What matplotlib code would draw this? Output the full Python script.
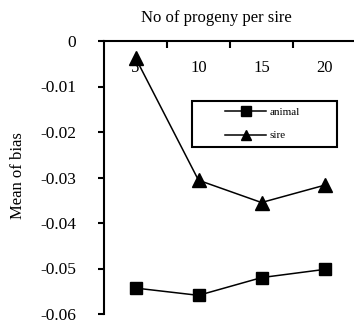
import matplotlib
matplotlib.use("Agg")
import matplotlib.pyplot as plt
from matplotlib.patches import Rectangle

plt.rcParams['font.family'] = ['Liberation Serif', 'DejaVu Serif']

progeny = ["5", "10", "15", "20"]
animal = [-0.0543, -0.0559, -0.0520, -0.0502]
sire = [-0.0037, -0.0306, -0.0355, -0.0317]
yticks = [0, -0.01, -0.02, -0.03, -0.04, -0.05, -0.06]
ytick_labels = ['0', '-0.01', '-0.02', '-0.03', '-0.04', '-0.05', '-0.06']


def plot_bias(output_file):
    W, H = 354, 323
    fig = plt.figure(figsize=(W / 100, H / 100), dpi=100)

    # plot area in pixels: left, right, top, bottom
    left, right, top, bottom = 104, 356, 41, 314
    ax = fig.add_axes([left / W, (H - bottom) / H, (right - left) / W, (bottom - top) / H])

    x = range(len(progeny))
    ax.plot(x, animal, color='black', lw=1.1, marker='s', ms=8.6, label='animal')
    ax.plot(x, sire, color='black', lw=1.1, marker='^', ms=9.5, label='sire')

    ax.set_xlim(-0.5, len(progeny) - 0.5)
    ax.set_ylim(-0.06, 0)

    # category axis sits on the zero line at the top
    ax.spines['bottom'].set_visible(False)
    ax.spines['right'].set_visible(False)
    ax.spines['top'].set_linewidth(1.5)
    ax.spines['left'].set_linewidth(1.5)

    ax.xaxis.tick_top()
    ax.set_xticks([0.5, 1.5, 2.5])
    ax.set_xticklabels([])
    ax.tick_params(axis='x', which='major', direction='in', length=5, width=1.5)
    ax.set_xticks(list(x), minor=True)
    ax.set_xticklabels(progeny, minor=True, fontsize=12)
    ax.tick_params(axis='x', which='minor', length=0, pad=-25, labeltop=True)

    ax.set_yticks(yticks)
    ax.set_yticklabels(ytick_labels, fontsize=12.5)
    ax.tick_params(axis='y', direction='out', length=4.5, width=1.5, pad=15.5)

    fig.text(216.5 / W, 1 - 18 / H, "No of progeny per sire", ha='center', va='center', fontsize=12)
    fig.text(18.5 / W, 1 - 175.5 / H, "Mean of bias", ha='center', va='center', rotation=90, fontsize=12)

    # legend box with the entries set inside it
    box = Rectangle((192 / W, 1 - 147 / H), (337 - 192) / W, (147 - 101) / H, transform=fig.transFigure,
                    facecolor='white', edgecolor='black', lw=1.5, zorder=4, clip_on=False)
    ax.add_patch(box)
    leg = ax.legend(loc='upper left', bbox_to_anchor=(225 / W, 1 - 107 / H), bbox_transform=fig.transFigure,
                    fontsize=8, markerscale=0.78, frameon=False, borderpad=0, borderaxespad=0,
                    labelspacing=1.25, handlelength=3.7, handletextpad=0.35)
    leg.set_zorder(6)

    fig.savefig(output_file, dpi=100)
    plt.close(fig)


if __name__ == "__main__":
    plot_bias("out.png")
